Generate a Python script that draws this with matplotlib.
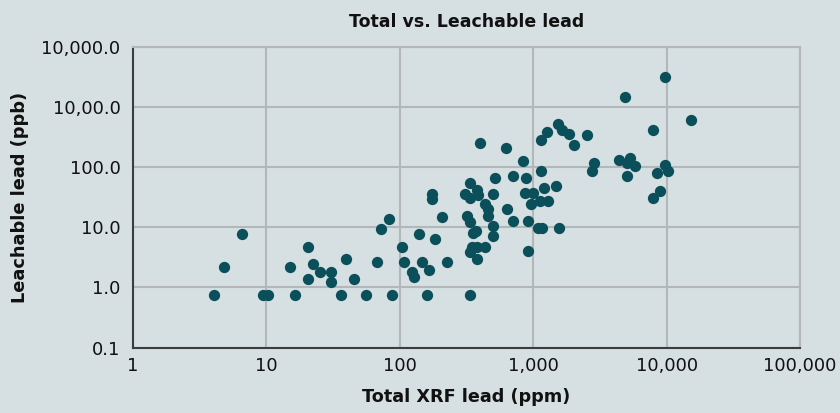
"""Total vs. leachable lead scatter (log-log)."""
import matplotlib
matplotlib.use("Agg")
import matplotlib.pyplot as plt
from matplotlib.ticker import FixedLocator, FixedFormatter, NullLocator

# Total XRF lead (ppm) and leachable lead (ppb)
total_xrf = [
    4.07, 4.83, 6.56, 9.5, 10.2, 15.0, 16.5, 20.5, 22.3, 20.5,
    25.4, 30.3, 30.3, 39.5, 45.1, 36.0, 55.8, 87, 159, 336,
    67, 72.7, 83, 103, 108, 123, 128, 146.6, 166, 140,
    183, 227, 174, 174, 208, 336, 308, 336, 380, 387,
    496, 520, 435, 456, 456, 321, 336, 351, 370, 496,
    496, 336, 350, 380, 435, 380, 640, 399, 622, 843,
    1144, 1262, 1144, 709, 883, 868, 1000, 957, 1124, 1298,
    1199, 1483, 709, 918, 1092, 1158, 1560, 918, 1543, 1633,
    1853, 2022, 2518, 2870, 2746, 9724, 4875, 15170, 7870, 4419,
    5321, 5080, 5790, 5080, 9724, 8510, 10190, 8920, 7870,
]
leachable = [
    0.75, 2.17, 7.7, 0.75, 0.75, 2.17, 0.75, 4.7, 2.44, 1.36,
    1.82, 1.82, 1.24, 2.92, 1.36, 0.75, 0.75, 0.75, 0.75, 0.75,
    2.66, 9.2, 13.6, 4.7, 2.66, 1.82, 1.47, 2.66, 1.99, 7.7,
    6.3, 2.66, 36.4, 29.3, 15.1, 54, 36.4, 30.1, 41.3, 34.1,
    36.4, 66, 24.8, 20.5, 15.3, 15.5, 12.3, 7.9, 8.6, 10.4,
    7.1, 3.9, 4.7, 4.7, 4.7, 2.92, 20.5, 252, 208, 127,
    86.5, 384, 280, 71.5, 64.7, 37.3, 37.3, 24.8, 27.5, 27.5,
    44.2, 48.2, 12.6, 12.6, 9.55, 9.55, 9.55, 4.0, 515, 410,
    348, 231, 339, 119, 86.5, 3150, 1466, 601, 410, 130,
    144, 117, 103.5, 70.6, 108, 78.3, 86.5, 40.3, 30.1,
]

x_ticks = [1, 10, 100, 1000, 10000, 100000]
x_tick_labels = ["1", "10", "100", "1,000", "10,000", "100,000"]
y_ticks = [0.1, 1, 10, 100, 1000, 10000]
y_tick_labels = ["0.1", "1.0", "10.0", "100.0", "10,00.0", "10,000.0"]

BG = "#d6dfe1"
DOT = "#0b4f5b"
GRID = "#b4b7b9"
TEXT = "#111111"

plt.rcParams["font.family"] = ["DejaVu Sans"]

fig = plt.figure(figsize=(8.4, 4.13), dpi=100, facecolor=BG)
ax = fig.add_axes([0.1583, 0.1581, 0.7941, 0.7289], facecolor=BG)

ax.scatter(total_xrf, leachable, s=66, color=DOT, linewidths=0, zorder=3)

ax.set_xscale("log")
ax.set_yscale("log")
ax.set_xlim(1, 100000)
ax.set_ylim(0.1, 10000)

ax.xaxis.set_major_locator(FixedLocator(x_ticks))
ax.xaxis.set_major_formatter(FixedFormatter(x_tick_labels))
ax.xaxis.set_minor_locator(NullLocator())
ax.yaxis.set_major_locator(FixedLocator(y_ticks))
ax.yaxis.set_major_formatter(FixedFormatter(y_tick_labels))
ax.yaxis.set_minor_locator(NullLocator())

ax.grid(True, color=GRID, lw=1.5, zorder=0)
ax.tick_params(axis="both", length=0, labelsize=13, labelcolor=TEXT)
ax.tick_params(axis="y", pad=9)
ax.tick_params(axis="x", pad=7)

for side in ("top", "right"):
    ax.spines[side].set_color(GRID)
    ax.spines[side].set_linewidth(1.5)
for side in ("left", "bottom"):
    ax.spines[side].set_color("#3c3c3c")
    ax.spines[side].set_linewidth(1.5)

ax.set_title("Total vs. Leachable lead", fontsize=12.5, fontweight="bold",
             color=TEXT, pad=14)
ax.set_xlabel("Total XRF lead (ppm)", fontsize=12.7, fontweight="bold",
              color=TEXT, labelpad=9)
ax.set_ylabel("Leachable lead (ppb)", fontsize=12.8, fontweight="bold",
              color=TEXT, labelpad=9)

fig.savefig("out.png", dpi=100, facecolor=BG)
